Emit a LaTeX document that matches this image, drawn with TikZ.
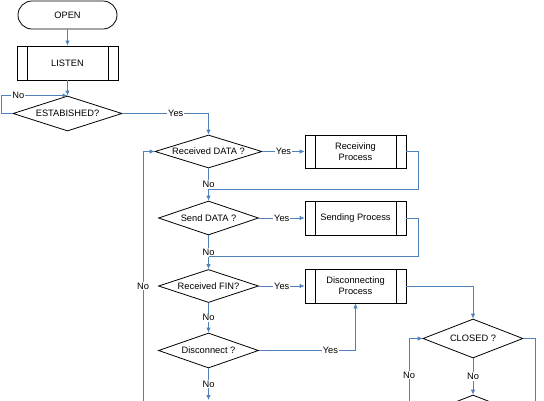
\documentclass[tikz,border=0pt]{standalone}
\usepackage{fontspec}
\setmainfont{Liberation Sans}
\usepackage{tikz}
\usetikzlibrary{shapes.geometric}
\usetikzlibrary{shapes.misc}
\usetikzlibrary{arrows.meta}
\definecolor{lineblue}{RGB}{79,129,189}
\tikzset{
    common/.style={draw, line width=0.8pt, inner sep=1pt, align=center},
    terminal/.style={common, rounded rectangle, minimum width=101pt, minimum height=28pt},
    subproc/.style={common, rectangle, minimum width=101pt, minimum height=34pt,
        path picture={
            \draw[line width=0.8pt]
                ([xshift=10pt]path picture bounding box.north west)--([xshift=10pt]path picture bounding box.south west)
                ([xshift=-10pt]path picture bounding box.north east)--([xshift=-10pt]path picture bounding box.south east);
        }
    },
    decision/.style={common, diamond, aspect=3, inner sep=0pt, minimum width=100pt, minimum height=34pt},
    flow/.style={draw=lineblue, line width=0.8pt, -{Latex[length=5pt,width=4.5pt]}},
    link/.style={draw=lineblue, line width=0.8pt},
    lbl/.style={fill=white, inner sep=1pt}
}

\begin{document}
\begin{tikzpicture}[x=1pt, y=-1pt, font=\fontsize{9.3}{11}\selectfont]
    \useasboundingbox (0,0) rectangle (544,400);
    \clip (0,0) rectangle (544,400);

    \node[terminal] (open) at (67.5,15) {OPEN};
    \node[subproc] (listen) at (67.5,63) {LISTEN};
    \node[decision, minimum width=109pt, minimum height=35pt] (estab) at (67.5,113.5) {ESTABISHED?};
    \node[decision, minimum width=107pt, minimum height=33pt] (recvData) at (208.5,151.5) {Received DATA ?};
    \node[subproc, minimum height=33pt] (recvProc) at (355.5,151.5) {Receiving\\Process};
    \node[decision] (sendData) at (208.5,218) {Send DATA ?};
    \node[subproc] (sendProc) at (355.5,218) {Sending Process};
    \node[decision, minimum height=33pt] (recvFin) at (208.5,286) {Received FIN?};
    \node[subproc] (discProc) at (355.5,286) {Disconnecting\\Process};
    \node[decision, minimum height=35pt] (disc) at (208.5,350.5) {Disconnect ?};
    \node[decision, minimum height=39pt] (closed) at (473,338.5) {CLOSED ?};
    \node[decision, minimum height=39pt] (nextDec) at (473,414.5) {};

    \coordinate (loopLeft) at (1,113.5);
    \coordinate (recvJoin) at (208.5,189);
    \coordinate (sendJoin) at (208.5,256);
    \coordinate (leftBot) at (143,410);
    \coordinate (discBot) at (208.5,400);
    \coordinate (closedLeft) at (409,410);
    \coordinate (closedRight) at (535,410);

    \draw[flow] (open) -- (listen);
    \draw[flow] (listen) -- (estab);
    \draw[flow] (estab.west) -- (loopLeft) |- node[lbl, pos=0.63] {No} (estab.north);
    \draw[flow] (estab.east) -| node[lbl, pos=0.31] {Yes} (recvData.north);

    \draw[flow] (recvData) -- node[lbl] {Yes} (recvProc);
    \draw[flow] (recvData) -- node[lbl] {No} (sendData);
    \draw[link] (recvProc.east) -- ++(12,0) |- (recvJoin);

    \draw[flow] (sendData) -- node[lbl] {Yes} (sendProc);
    \draw[flow] (sendData) -- node[lbl] {No} (recvFin);
    \draw[link] (sendProc.east) -- ++(12,0) |- (sendJoin);

    \draw[flow] (recvFin) -- node[lbl] {Yes} (discProc);
    \draw[flow] (recvFin) -- node[lbl] {No} (disc);
    \draw[flow] (disc.east) -| node[lbl, pos=0.37] {Yes} (discProc.south);
    \draw[flow] (disc) -- node[lbl] {No} (discBot);
    \draw[flow] (leftBot) |- node[lbl, pos=0.24] {No} (recvData.west);

    \draw[flow] (discProc.east) -| (closed.north);
    \draw[flow] (closedLeft) |- node[lbl, pos=0.245] {No} (closed.west);
    \draw[link] (closed.east) -| (closedRight);
    \draw[flow] (closed) -- node[lbl] {No} (nextDec);
\end{tikzpicture}
\end{document}
